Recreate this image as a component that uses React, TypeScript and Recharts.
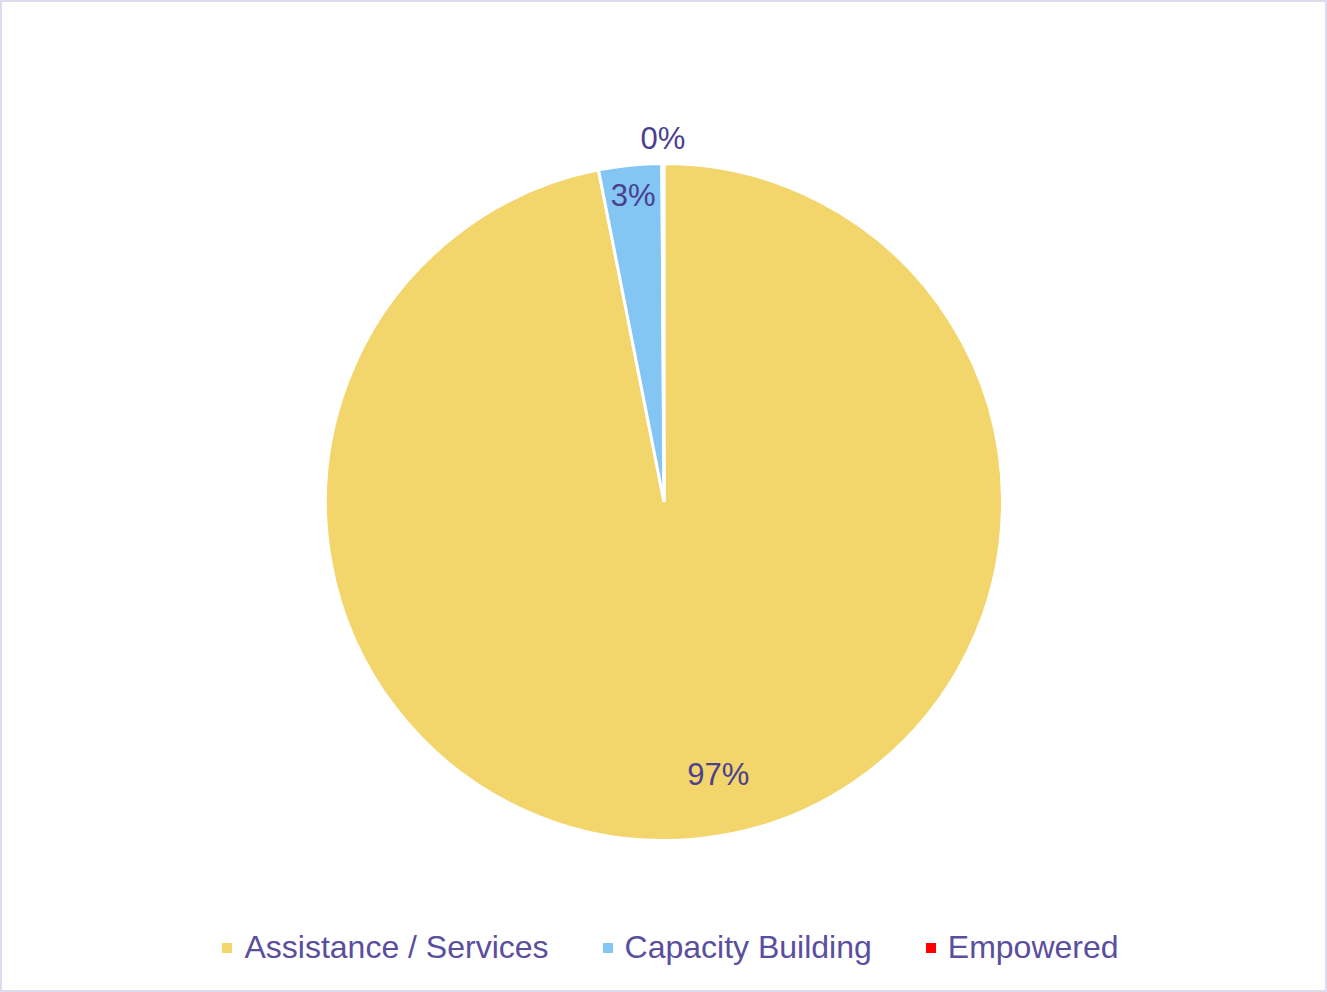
import { PieChart, Pie, Cell, Legend } from "recharts";

const categories = ["Assistance / Services", "Capacity Building", "Empowered"];
const shares = [96.9, 3.0, 0.1];
const colors = ["#F2D56B", "#83C5F3", "#FF0000"];

const data = categories.map((name, i) => ({ name, value: shares[i] }));

const RADIAN = Math.PI / 180;
// best-fit style placement, roughly like the original
const labelRadius = [0.82, 0.91, 1.075];
const labelTurn = [5.7, 0, 0];

const renderLabel = (props: any) => {
  const { cx, cy, midAngle, outerRadius, percent, index } = props;
  const r = outerRadius * labelRadius[index];
  const a = (midAngle + labelTurn[index]) * RADIAN;
  const x = cx + r * Math.cos(-a);
  const y = cy + r * Math.sin(-a);
  return (
    <text
      x={x}
      y={y}
      fill="#4B3F8F"
      fontSize={31}
      fontFamily="'Liberation Sans', Arial, sans-serif"
      textAnchor="middle"
      dominantBaseline="central"
    >
      {`${Math.round(percent * 100)}%`}
    </text>
  );
};

const renderLegend = () => (
  <div
    style={{
      display: "flex",
      justifyContent: "center",
      gap: 54,
      paddingLeft: 14,
      fontFamily: "'Liberation Sans', Arial, sans-serif",
      fontSize: 32,
      color: "#5A4E9E",
    }}
  >
    {categories.map((name, i) => (
      <div key={name} style={{ display: "flex", alignItems: "center" }}>
        <span
          style={{
            width: 10,
            height: 10,
            background: colors[i],
            display: "inline-block",
            marginRight: 12,
          }}
        />
        <span>{name}</span>
      </div>
    ))}
  </div>
);

export default function App() {
  return (
    <div
      style={{
        position: "absolute",
        left: 0,
        top: 0,
        width: 1327,
        height: 992,
        border: "2px solid #DCDCEE",
        boxSizing: "border-box",
        background: "#fff",
      }}
    >
      <PieChart width={1323} height={988} margin={{ top: 0, right: 0, bottom: 0, left: 0 }}>
        <Pie
          data={data}
          dataKey="value"
          nameKey="name"
          cx={662}
          cy={500}
          outerRadius={338.5}
          startAngle={90}
          endAngle={-270}
          stroke="#FFFFFF"
          strokeWidth={3}
          label={renderLabel}
          labelLine={false}
          isAnimationActive={false}
        >
          {data.map((d, i) => (
            <Cell key={d.name} fill={colors[i]} />
          ))}
        </Pie>
        <Legend
          content={renderLegend}
          wrapperStyle={{ left: 0, width: 1323, top: 927 }}
        />
      </PieChart>
    </div>
  );
}
